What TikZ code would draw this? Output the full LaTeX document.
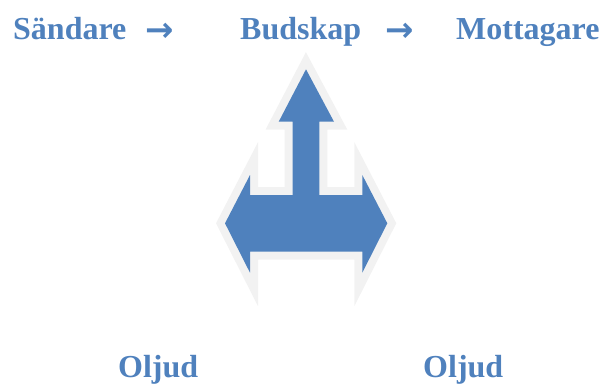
\documentclass[tikz,border=0pt]{standalone}
\usepackage{fontspec}
\setmainfont{Liberation Serif}
\newfontfamily\arrowfont{DejaVu Sans}
\definecolor{txtblue}{HTML}{4F81BD}
\definecolor{shapeblue}{HTML}{4F81BD}
\definecolor{shapegray}{HTML}{F2F2F2}
\begin{document}
\begin{tikzpicture}[x=1pt,y=-1pt,
  lbl/.style={inner sep=0pt,anchor=base west,text=txtblue,font=\fontsize{32}{36}\selectfont\bfseries},
  arr/.style={inner sep=0pt,anchor=base,text=txtblue,font=\fontsize{34}{38}\selectfont\arrowfont\bfseries}]
\useasboundingbox (0,0) rectangle (601,383);
% shape
\path[preaction={draw=shapegray,line width=16pt,line join=miter,miter limit=10},fill=shapeblue]
  (306,69.3) -- (334,121.7) -- (319.3,121.7) -- (319.3,195) -- (362.3,195) -- (362.3,175)
  -- (387.3,223.3) -- (362.3,272.7) -- (362.3,251.7) -- (250,251.7) -- (250,272.7)
  -- (225,223.3) -- (250,175) -- (250,195) -- (292.7,195) -- (292.7,121.7) -- (278.7,121.7) -- cycle;
% texts
\node[lbl] (s) at (13,39) {Sändare};
\node[arr] (a1) at (160,41) {→};
\node[lbl] (b) at (240,39) {Budskap};
\node[arr] (a2) at (400,41) {→};
\node[lbl] (m) at (456,39) {Mottagare};
\node[lbl] (o1) at (118,377) {Oljud};
\node[lbl] (o2) at (423,377) {Oljud};
\end{tikzpicture}
\end{document}
